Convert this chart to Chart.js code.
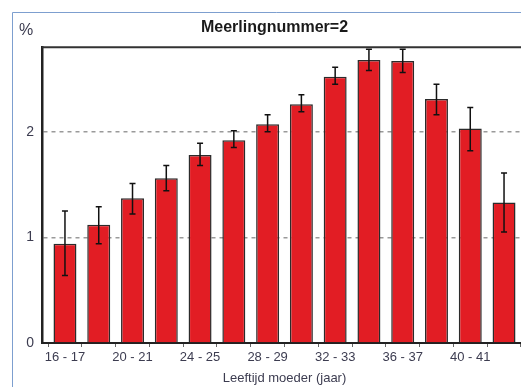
<!DOCTYPE html>
<html>
<head>
<meta charset="utf-8">
<script src="https://cdn.jsdelivr.net/npm/chart.js@4"></script>
<style>
  html, body { margin: 0; padding: 0; background: #fff; overflow: hidden; }
  #wrap { width: 521px; height: 387px; overflow: hidden; }
</style>
</head>
<body>
<div id="wrap"><canvas id="meerlingChart" width="540" height="387"></canvas></div>
<script>
// leeftijd moeder (jaar) categories
const labels = ['16 - 17','18 - 19','20 - 21','22 - 23','24 - 25','26 - 27','28 - 29',
                '30 - 31','32 - 33','34 - 35','36 - 37','38 - 39','40 - 41','42 - 43'];
// percentage, with lower / upper bound of the error bar
const values = [0.94, 1.12, 1.37, 1.56, 1.78, 1.92, 2.07, 2.26, 2.52, 2.68, 2.67, 2.31, 2.03, 1.33];
const lower  = [0.64, 0.94, 1.22, 1.44, 1.68, 1.85, 2.00, 2.19, 2.45, 2.58, 2.56, 2.16, 1.82, 1.05];
const upper  = [1.25, 1.29, 1.51, 1.68, 1.89, 2.01, 2.16, 2.35, 2.61, 2.78, 2.78, 2.45, 2.23, 1.61];
const yTicks = [0, 1, 2];

const textFont = '"Liberation Sans", Arial, sans-serif';

// frame, top border of plot, "%" label and error bars
const extras = {
  id: 'extras',
  beforeDraw(chart) {
    const ctx = chart.ctx;
    ctx.save();
    ctx.strokeStyle = '#7d9fcf';
    ctx.lineWidth = 1;
    ctx.beginPath();
    ctx.moveTo(12.5, chart.height);
    ctx.lineTo(12.5, 12.5);
    ctx.lineTo(chart.width, 12.5);
    ctx.stroke();
    ctx.restore();
  },
  afterDatasetsDraw(chart) {
    const ctx = chart.ctx;
    const x = chart.scales.x, y = chart.scales.y;
    const a = chart.chartArea;
    ctx.save();
    ctx.strokeStyle = '#111';
    ctx.lineWidth = 1.5;
    values.forEach((v, i) => {
      const px = x.getPixelForValue(i);
      const yl = y.getPixelForValue(lower[i]);
      const yh = y.getPixelForValue(upper[i]);
      ctx.beginPath();
      ctx.moveTo(px, yl); ctx.lineTo(px, yh);
      ctx.moveTo(px - 3, yl); ctx.lineTo(px + 3, yl);
      ctx.moveTo(px - 3, yh); ctx.lineTo(px + 3, yh);
      ctx.stroke();
    });
    // top edge of the plot box
    ctx.strokeStyle = '#333';
    ctx.lineWidth = 2;
    ctx.beginPath();
    ctx.moveTo(a.left, a.top); ctx.lineTo(a.right, a.top);
    ctx.stroke();
    // unit label
    ctx.fillStyle = '#3c3c50';
    ctx.font = '16px ' + textFont;
    ctx.textAlign = 'center';
    ctx.textBaseline = 'middle';
    ctx.fillText('%', 26, 31);
    ctx.restore();
  }
};

new Chart(document.getElementById('meerlingChart'), {
  type: 'bar',
  data: {
    datasets: [{
      data: values.map((v, i) => ({ x: i, y: v })),
      backgroundColor: '#e21d24',
      borderColor: '#2b2b2b',
      borderWidth: 1.5,
      categoryPercentage: 1,
      barPercentage: 0.68
    }]
  },
  options: {
    responsive: false,
    animation: false,
    layout: { padding: { left: 22, right: 13, top: 0, bottom: 0 } },
    plugins: {
      legend: { display: false },
      tooltip: { enabled: false },
      title: {
        display: true,
        text: 'Meerlingnummer=2',
        color: '#1a1a1a',
        font: { family: textFont, size: 16, weight: 'bold' },
        padding: { top: 18, bottom: 10 }
      }
    },
    scales: {
      x: {
        type: 'linear',
        offset: false,
        min: -0.68,
        max: 13.68,
        afterBuildTicks: s => { s.ticks = labels.map((l, i) => ({ value: i })); },
        afterFit: s => { s.height = 44; },
        ticks: {
          autoSkip: false,
          maxRotation: 0,
          padding: 3,
          color: '#3c3c50',
          font: { family: textFont, size: 13 },
          callback: v => (v % 2 === 0 ? labels[v] : '')
        },
        grid: { drawOnChartArea: false, tickLength: 4, color: '#666' },
        border: { color: '#222', width: 2 },
        title: {
          display: true,
          text: 'Leeftijd moeder (jaar)',
          color: '#3c3c50',
          font: { family: textFont, size: 13 },
          padding: { top: 4, bottom: 1 }
        }
      },
      y: {
        min: 0,
        max: 2.8,
        afterBuildTicks: s => { s.ticks = yTicks.map(v => ({ value: v })); },
        afterFit: s => { s.width = 20; },
        ticks: {
          padding: 8,
          color: '#3c3c50',
          font: { family: textFont, size: 14 }
        },
        grid: {
          drawTicks: false,
          lineWidth: 1.5,
          color: c => (c.tick && c.tick.value === 0 ? 'rgba(0,0,0,0)' : '#9a9a9a')
        },
        border: { color: '#222', width: 2.5, dash: [4, 4] }
      }
    }
  },
  plugins: [extras]
});
</script>
</body>
</html>
